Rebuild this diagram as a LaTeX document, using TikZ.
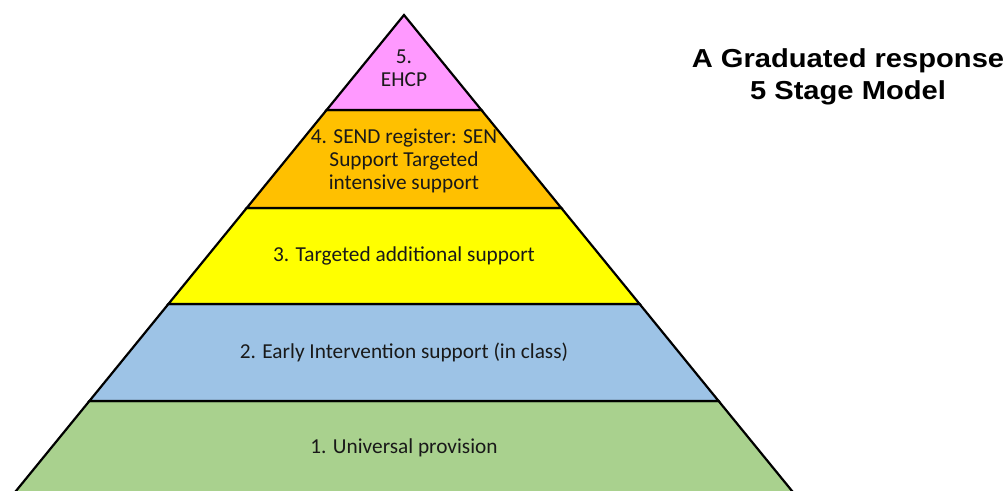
\documentclass[tikz,border=0pt]{standalone}
\usepackage{fontspec}
\newfontfamily\bodyfont{Carlito}
\newfontfamily\titlefont{Liberation Sans}
\definecolor{lvlfive}{HTML}{FF99FF}
\definecolor{lvlfour}{HTML}{FFC000}
\definecolor{lvlthree}{HTML}{FFFF00}
\definecolor{lvltwo}{HTML}{9DC3E6}
\definecolor{lvlone}{HTML}{A9D18E}
\begin{document}
\begin{tikzpicture}[x=1bp,y=-1bp,
  band/.style={draw=black,line width=2.2bp,line join=miter},
  lbl/.style={font=\bodyfont\fontsize{21.3bp}{23bp}\selectfont,align=center,inner sep=0pt,text=black!90},
  ttl/.style={font=\titlefont\bfseries\fontsize{26bp}{32bp}\selectfont,align=center,inner sep=0pt,xscale=1.12}]
\useasboundingbox (0,0) rectangle (1008,491);
\clip (0,0) rectangle (1008,491);
% boundary coordinates
\coordinate (apex) at (404,15);
\coordinate (l5) at (326.6,110); \coordinate (r5) at (481.4,110);
\coordinate (l4) at (246.7,208); \coordinate (r4) at (561.3,208);
\coordinate (l3) at (168.4,304); \coordinate (r3) at (639.6,304);
\coordinate (l2) at (89.4,401);  \coordinate (r2) at (718.6,401);
\coordinate (l1) at (12.7,495);  \coordinate (r1) at (795.3,495);
% bands
\draw[band,fill=lvlone]   (l2) -- (r2) -- (r1) -- (l1) -- cycle;
\draw[band,fill=lvltwo]   (l3) -- (r3) -- (r2) -- (l2) -- cycle;
\draw[band,fill=lvlthree] (l4) -- (r4) -- (r3) -- (l3) -- cycle;
\draw[band,fill=lvlfour]  (l5) -- (r5) -- (r4) -- (l4) -- cycle;
\draw[band,fill=lvlfive]  (apex) -- (r5) -- (l5) -- cycle;
% labels
\node[lbl] (t5) at (404,68) {5.\\EHCP};
\node[lbl] (t4) at (404,161) {4. SEND register: SEN\\Support Targeted\\intensive support};
\node[lbl] (t3) at (404,256) {3. Targeted additional support};
\node[lbl] (t2) at (404,352.5) {2. Early Intervention support (in class)};
\node[lbl] (t1) at (404,448) {1. Universal provision};
\node[ttl] (title) at (848,77) {A Graduated response\\5 Stage Model};
\end{tikzpicture}
\end{document}
